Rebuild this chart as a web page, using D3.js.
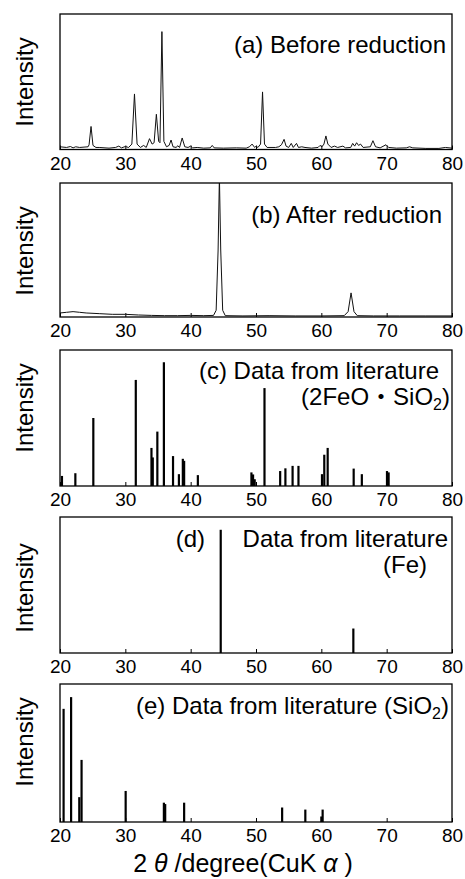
<!DOCTYPE html>
<html>
<head>
<meta charset="utf-8">
<script src="https://cdn.jsdelivr.net/npm/d3@7"></script>
<style>
  html, body { margin: 0; padding: 0; background: #fff; }
  svg { display: block; }
  text { font-family: "Liberation Sans", Arial, Helvetica, "Noto Sans CJK JP", sans-serif; fill: #000; }
</style>
</head>
<body>
<svg id="chart" width="465" height="879"></svg>
<script>
// ---------- data ----------
const xTicks = [20, 30, 40, 50, 60, 70, 80];

// (a) Before reduction : measured profile (2θ, relative intensity)
const aTheta = [20.0, 21.0, 21.6, 22.0, 22.4, 23.0, 24.3, 24.45, 24.75, 25.05, 25.5, 26.0, 27.5, 28.5, 29.0, 29.4, 30.0, 30.5,
  31.0, 31.4, 31.8, 32.3, 32.8, 33.2, 33.7, 34.1, 34.4, 34.75, 35.1, 35.3, 35.6, 35.9, 36.3, 36.7, 37.0, 37.3, 37.8, 38.0, 38.3,
  38.7, 39.1, 39.6, 40.0, 40.3, 41.0, 42.0, 43.0, 43.3, 43.6, 45.0, 47.0, 48.5, 49.0, 49.4, 49.8, 50.0, 50.3, 50.7, 51.0, 51.3,
  51.7, 53.0, 53.5, 53.9, 54.3, 54.6, 55.0, 55.4, 55.7, 56.2, 56.5, 57.0, 57.5, 58.5, 59.5, 59.8, 60.1, 60.4, 60.7, 61.0, 61.5,
  62.0, 62.5, 63.3, 63.7, 64.5, 64.8, 65.1, 65.4, 65.7, 66.0, 66.4, 67.5, 67.9, 68.3, 69.0, 69.9, 70.3, 71.5, 73.0, 73.5, 74.0,
  76.0, 78.0, 79.0, 80.0];
const aInt = [0.02, 0.015, 0.022, 0.012, 0.02, 0.015, 0.02, 0.035, 0.17, 0.03, 0.015, 0.015, 0.01, 0.015, 0.025, 0.012, 0.022, 0.015,
  0.04, 0.41, 0.04, 0.015, 0.03, 0.015, 0.08, 0.04, 0.05, 0.26, 0.06, 0.05, 0.87, 0.06, 0.02, 0.03, 0.07, 0.02, 0.015, 0.028, 0.015,
  0.085, 0.02, 0.015, 0.025, 0.012, 0.015, 0.01, 0.012, 0.03, 0.012, 0.01, 0.012, 0.01, 0.02, 0.04, 0.015, 0.025, 0.015, 0.04, 0.425, 0.04,
  0.015, 0.015, 0.02, 0.035, 0.075, 0.025, 0.015, 0.045, 0.015, 0.045, 0.015, 0.02, 0.015, 0.01, 0.015, 0.03, 0.02, 0.04, 0.1, 0.04, 0.015,
  0.025, 0.015, 0.025, 0.012, 0.015, 0.045, 0.025, 0.05, 0.03, 0.04, 0.015, 0.02, 0.065, 0.02, 0.012, 0.035, 0.015, 0.01, 0.012, 0.02, 0.012,
  0.008, 0.008, 0.015, 0.01];

// (b) After reduction : measured profile
const bTheta = [20.0, 21.0, 22.0, 23.0, 24.0, 26.0, 28.0, 30.0, 32.0, 34.0, 36.0, 38.0, 40.0, 42.0, 43.5, 43.9, 44.2, 44.4, 44.6, 44.9,
  45.3, 48.0, 52.0, 56.0, 60.0, 63.5, 64.1, 64.55, 65.0, 65.5, 68.0, 72.0, 76.0, 80.0];
const bInt = [0.03, 0.035, 0.04, 0.035, 0.03, 0.025, 0.02, 0.02, 0.015, 0.012, 0.01, 0.01, 0.012, 0.01, 0.012, 0.05, 0.5, 1.05, 0.5, 0.05,
  0.01, 0.008, 0.01, 0.008, 0.008, 0.01, 0.04, 0.18, 0.04, 0.01, 0.008, 0.008, 0.008, 0.008];

// (c) literature 2FeO·SiO2 : line positions and relative intensities
const cPos = [20.3, 22.35, 25.1, 31.6, 34.0, 34.2, 34.9, 35.9, 37.3, 38.2, 38.8, 39.0, 41.1, 49.3, 49.55, 49.8, 51.3,
  53.7, 54.5, 55.6, 56.5, 60.1, 60.45, 60.97, 64.95, 66.2, 70.05, 70.3];
const cInt = [0.074, 0.094, 0.5, 0.78, 0.28, 0.21, 0.40, 0.91, 0.22, 0.087, 0.2, 0.185, 0.08, 0.10, 0.085, 0.05, 0.72,
  0.11, 0.13, 0.148, 0.148, 0.087, 0.23, 0.28, 0.128, 0.087, 0.11, 0.10];

// (d) literature Fe
const dPos = [44.6, 64.9];
const dInt = [0.906, 0.18];

// (e) literature SiO2
const ePos = [20.55, 21.7, 22.95, 23.3, 30.05, 35.9, 36.1, 39.0, 54.0, 57.55, 60.0, 60.2];
const eInt = [0.82, 0.905, 0.18, 0.45, 0.225, 0.14, 0.13, 0.14, 0.105, 0.09, 0.04, 0.09];

// ---------- layout ----------
const svg = d3.select("#chart");
const x = d3.scaleLinear().domain([20, 80]).range([60, 452]);

const panels = [
  { id: "a", top: 14,  bottom: 149.5, labelY: 82 },
  { id: "b", top: 183, bottom: 317,   labelY: 251 },
  { id: "c", top: 350, bottom: 486,   labelY: 408 },
  { id: "d", top: 517, bottom: 653,   labelY: 588 },
  { id: "e", top: 684, bottom: 822,   labelY: 742 }
];

panels.forEach(p => {
  p.y = d3.scaleLinear().domain([0, 1]).range([p.bottom, p.top]);
  const g = svg.append("g").attr("class", "panel-" + p.id);

  svg.append("clipPath").attr("id", "clip-" + p.id)
    .append("rect").attr("x", x(20)).attr("y", p.top).attr("width", x(80) - x(20)).attr("height", p.bottom - p.top);

  // axis with inward ticks
  const axis = d3.axisBottom(x).tickValues(xTicks).tickSizeInner(-4).tickSizeOuter(0).tickPadding(7)
    .tickFormat(d3.format("d"));
  const ag = g.append("g").attr("transform", `translate(0,${p.bottom})`).call(axis);
  ag.select(".domain").remove();
  ag.selectAll(".tick line").attr("stroke", "#000").attr("stroke-width", 1);
  ag.selectAll(".tick text").attr("font-size", 19).attr("font-family", null).attr("fill", "#000");

  // y label
  g.append("text")
    .attr("transform", `translate(33,${p.labelY}) rotate(-90)`)
    .attr("text-anchor", "middle")
    .attr("font-size", 24)
    .text("Intensity");

  p.g = g;
});

// (a) profile
const pa = panels[0];
pa.g.append("path")
  .datum(aTheta.map((t, i) => [t, aInt[i]]))
  .attr("clip-path", "url(#clip-a)")
  .attr("fill", "none").attr("stroke", "#111").attr("stroke-width", 1).attr("stroke-linejoin", "round")
  .attr("d", d3.line().x(d => x(d[0])).y(d => pa.y(d[1])));

// (b) profile
const pb = panels[1];
pb.g.append("path")
  .datum(bTheta.map((t, i) => [t, bInt[i]]))
  .attr("clip-path", "url(#clip-b)")
  .attr("fill", "none").attr("stroke", "#111").attr("stroke-width", 1).attr("stroke-linejoin", "round")
  .attr("d", d3.line().x(d => x(d[0])).y(d => pb.y(d[1])));

// stick patterns
function sticks(p, pos, inten) {
  p.g.append("g").attr("clip-path", `url(#clip-${p.id})`)
    .selectAll("line").data(pos.map((t, i) => [t, inten[i]])).join("line")
    .attr("x1", d => x(d[0])).attr("x2", d => x(d[0]))
    .attr("y1", p.y(0)).attr("y2", d => p.y(d[1]))
    .attr("stroke", "#000").attr("stroke-width", 2.2);
}
sticks(panels[2], cPos, cInt);
sticks(panels[3], dPos, dInt);
sticks(panels[4], ePos, eInt);

// frames
panels.forEach(p => {
  p.g.append("rect")
    .attr("x", x(20)).attr("y", p.top).attr("width", x(80) - x(20)).attr("height", p.bottom - p.top)
    .attr("fill", "none").attr("stroke", "#000").attr("stroke-width", 1.3);
});

// titles
const T = 24;
panels[0].g.append("text").attr("x", 446).attr("y", 53).attr("text-anchor", "end").attr("font-size", T).text("(a) Before reduction");
panels[1].g.append("text").attr("x", 442).attr("y", 223).attr("text-anchor", "end").attr("font-size", T).text("(b) After reduction");

panels[2].g.append("text").attr("x", 439).attr("y", 379).attr("text-anchor", "end").attr("font-size", T).text("(c) Data from literature");
const c2 = panels[2].g.append("text").attr("x", 450).attr("y", 405).attr("text-anchor", "end").attr("font-size", T);
c2.append("tspan").text("(2FeO・SiO");
c2.append("tspan").attr("font-size", 16).attr("dy", 5).text("2");
c2.append("tspan").attr("dy", -5).text(")");

panels[3].g.append("text").attr("x", 205).attr("y", 547).attr("text-anchor", "end").attr("font-size", T).text("(d)");
panels[3].g.append("text").attr("x", 448).attr("y", 547).attr("text-anchor", "end").attr("font-size", T).text("Data from literature");
panels[3].g.append("text").attr("x", 427).attr("y", 573).attr("text-anchor", "end").attr("font-size", T).text("(Fe)");

const e1 = panels[4].g.append("text").attr("x", 449).attr("y", 714).attr("text-anchor", "end").attr("font-size", T);
e1.append("tspan").text("(e) Data from literature (SiO");
e1.append("tspan").attr("font-size", 16).attr("dy", 5).text("2");
e1.append("tspan").attr("dy", -5).text(")");

// x-axis title
const xt = svg.append("text").attr("x", 243).attr("y", 872).attr("text-anchor", "middle").attr("font-size", 25);
xt.append("tspan").text("2 ");
xt.append("tspan").attr("font-style", "italic").text("θ");
xt.append("tspan").text(" /degree(CuK ");
xt.append("tspan").attr("font-style", "italic").text("α");
xt.append("tspan").text(" )");
</script>
</body>
</html>
